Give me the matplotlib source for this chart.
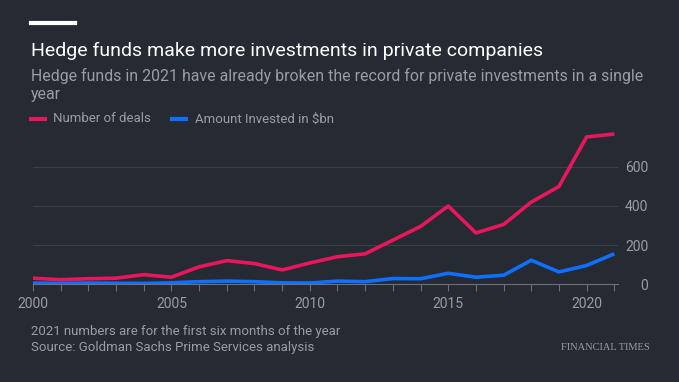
import matplotlib.pyplot as plt
from matplotlib.ticker import MultipleLocator

years = list(range(2000, 2022))
deals = [30, 22, 27, 30, 48, 35, 88, 120, 105, 72, 108, 140, 155,
         225, 295, 400, 262, 305, 420, 500, 754, 769]
invested = [5, 3, 5, 4, 3, 6, 12, 15, 12, 6, 5, 15, 12,
            28, 27, 55, 35, 45, 122, 62, 95, 155]
y_ticks = [0, 200, 400, 600]
x_ticks = [2000, 2005, 2010, 2015, 2020]

BG = '#262a33'
RED = '#e8175d'
BLUE = '#0f6fff'
GREY = '#9a9da3'
GRID = '#3b3f48'

plt.rcParams['font.family'] = ['Roboto', 'DejaVu Sans']

fig = plt.figure(figsize=(6.79, 3.82), dpi=100, facecolor=BG)
ax = fig.add_axes([0.0486, 0.2565, 0.861, 0.4085], facecolor=BG)

ax.plot(years, deals, color=RED, lw=2.6, solid_capstyle='butt')
ax.plot(years, invested, color=BLUE, lw=2.6, solid_capstyle='butt')

ax.set_xlim(2000, 2021.12)
ax.set_ylim(0, 800)
ax.set_yticks(y_ticks)
ax.set_xticks(x_ticks)
ax.xaxis.set_minor_locator(MultipleLocator(1))
ax.yaxis.tick_right()
ax.tick_params(axis='y', length=0, labelsize=10, labelcolor=GREY)
for lab in ax.get_yticklabels():
    lab.set_horizontalalignment('right')
ax.tick_params(axis='y', pad=22)
ax.tick_params(axis='x', which='both', direction='out', color='#6c7079',
               length=5, width=0.8, labelsize=10, labelcolor=GREY, pad=4)
ax.grid(axis='y', color=GRID, lw=0.8)
for s in ['top', 'left', 'right']:
    ax.spines[s].set_visible(False)
ax.spines['bottom'].set_color('#6c7079')
ax.spines['bottom'].set_linewidth(0.8)
ax.set_axisbelow(True)

# header
fig.add_artist(plt.Line2D([31 / 679, 75 / 679], [1 - 23 / 382] * 2,
                          color='white', lw=3))
fig.text(31 / 679, 1 - 51 / 382, 'Hedge funds make more investments in private companies',
         color='white', fontsize=14, va='center')
fig.text(31 / 679, 1 - 76 / 382,
         'Hedge funds in 2021 have already broken the record for private investments in a single',
         color=GREY, fontsize=11.4, va='center')
fig.text(31 / 679, 1 - 95 / 382, 'year', color=GREY, fontsize=11.4, va='center')

# legend
ly = 1 - 119 / 382
fig.add_artist(plt.Line2D([31 / 679, 45 / 679], [ly, ly], color=RED, lw=3))
fig.text(53 / 679, ly, 'Number of deals', color=GREY, fontsize=9.5, va='center')
fig.add_artist(plt.Line2D([172 / 679, 186 / 679], [ly, ly], color=BLUE, lw=3))
fig.text(195 / 679, ly, 'Amount Invested in $bn', color=GREY, fontsize=9.5, va='center')

# footer
fig.text(31 / 679, 1 - 332 / 382, '2021 numbers are for the first six months of the year',
         color=GREY, fontsize=9.5, va='center')
fig.text(31 / 679, 1 - 348 / 382, 'Source: Goldman Sachs Prime Services analysis',
         color=GREY, fontsize=9.5, va='center')
fig.text(650 / 679, 1 - 348 / 382, 'FINANCIAL TIMES', color=GREY, fontsize=7.5,
         family='Liberation Serif', ha='right', va='center')

fig.savefig('out.png', dpi=100, facecolor=BG)
